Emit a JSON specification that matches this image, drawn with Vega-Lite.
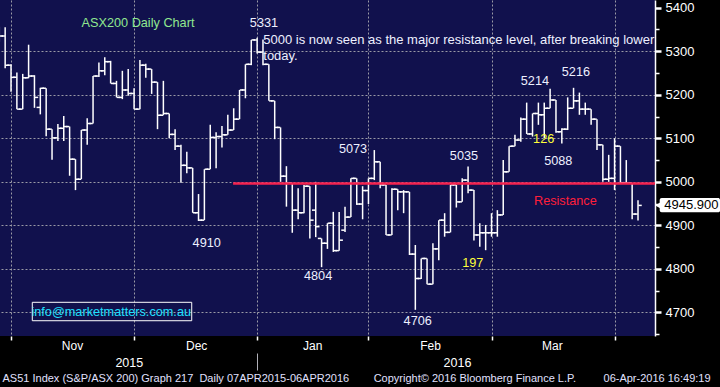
{
  "$schema": "https://vega.github.io/schema/vega-lite/v6.json",
  "width": 655,
  "height": 336,
  "autosize": {"type": "none"},
  "padding": {"left": 0, "top": 0, "right": 65, "bottom": 51},
  "background": "#000000",
  "config": {"view": {"fill": "#11114d", "stroke": null}, "font": "Liberation Sans"},
  "title": {
    "text": "AS51 Index (S&P/ASX 200) Graph 217\u00a0\u00a0Daily 07APR2015-06APR2016\u00a0\u00a0\u00a0\u00a0\u00a0\u00a0\u00a0\u00a0Copyright\u00a9 2016 Bloomberg Finance L.P.\u00a0\u00a0\u00a0\u00a0\u00a0\u00a0\u00a0\u00a0\u00a006-Apr-2016 16:49:19",
    "orient": "bottom",
    "anchor": "start",
    "frame": "group",
    "dx": 2.5,
    "offset": 2,
    "font": "Liberation Sans",
    "fontSize": 11,
    "fontWeight": "normal",
    "color": "#e0e0ff"
  },
  "datasets": {
    "ohlc": [
      {"d": -2, "o": 5345, "h": 5356, "l": 5322, "c": 5335},
      {"d": -1, "o": 5335, "h": 5355, "l": 5261, "c": 5268},
      {"d": 0, "o": 5268, "h": 5270, "l": 5207, "c": 5240},
      {"d": 1, "o": 5240, "h": 5251, "l": 5167, "c": 5167},
      {"d": 2, "o": 5167, "h": 5248, "l": 5167, "c": 5239},
      {"d": 3, "o": 5239, "h": 5315, "l": 5238, "c": 5243},
      {"d": 4, "o": 5243, "h": 5245, "l": 5170, "c": 5194},
      {"d": 5, "o": 5171, "h": 5216, "l": 5155, "c": 5215},
      {"d": 6, "o": 5215, "h": 5215, "l": 5105, "c": 5121},
      {"d": 7, "o": 5121, "h": 5121, "l": 5051, "c": 5101},
      {"d": 8, "o": 5101, "h": 5133, "l": 5094, "c": 5123},
      {"d": 9, "o": 5123, "h": 5151, "l": 5094, "c": 5127},
      {"d": 10, "o": 5127, "h": 5127, "l": 5014, "c": 5052},
      {"d": 11, "o": 5052, "h": 5052, "l": 4981, "c": 5006},
      {"d": 12, "o": 5006, "h": 5119, "l": 5006, "c": 5119},
      {"d": 13, "o": 5119, "h": 5146, "l": 5085, "c": 5134},
      {"d": 14, "o": 5134, "h": 5243, "l": 5134, "c": 5243},
      {"d": 15, "o": 5243, "h": 5274, "l": 5241, "c": 5255},
      {"d": 16, "o": 5255, "h": 5286, "l": 5245, "c": 5276},
      {"d": 17, "o": 5276, "h": 5278, "l": 5226, "c": 5226},
      {"d": 18, "o": 5226, "h": 5232, "l": 5194, "c": 5194},
      {"d": 19, "o": 5194, "h": 5255, "l": 5190, "c": 5211},
      {"d": 20, "o": 5211, "h": 5259, "l": 5198, "c": 5203},
      {"d": 21, "o": 5203, "h": 5215, "l": 5167, "c": 5167},
      {"d": 22, "o": 5167, "h": 5280, "l": 5167, "c": 5268},
      {"d": 23, "o": 5268, "h": 5271, "l": 5239, "c": 5259},
      {"d": 24, "o": 5259, "h": 5259, "l": 5202, "c": 5229},
      {"d": 25, "o": 5229, "h": 5229, "l": 5121, "c": 5153},
      {"d": 26, "o": 5153, "h": 5232, "l": 5153, "c": 5157},
      {"d": 27, "o": 5157, "h": 5157, "l": 5100, "c": 5109},
      {"d": 28, "o": 5109, "h": 5121, "l": 5073, "c": 5082},
      {"d": 29, "o": 5082, "h": 5085, "l": 4998, "c": 5038},
      {"d": 30, "o": 5038, "h": 5069, "l": 5020, "c": 5032},
      {"d": 31, "o": 5032, "h": 5032, "l": 4929, "c": 4929},
      {"d": 32, "o": 4929, "h": 4972, "l": 4910, "c": 4912},
      {"d": 33, "o": 4912, "h": 5029, "l": 4912, "c": 5029},
      {"d": 34, "o": 5029, "h": 5131, "l": 5029, "c": 5102},
      {"d": 35, "o": 5102, "h": 5114, "l": 5031, "c": 5104},
      {"d": 36, "o": 5104, "h": 5128, "l": 5079, "c": 5108},
      {"d": 37, "o": 5108, "h": 5154, "l": 5108, "c": 5119},
      {"d": 38, "o": 5119, "h": 5169, "l": 5119, "c": 5144},
      {"d": 39, "o": 5144, "h": 5211, "l": 5144, "c": 5211},
      {"d": 40, "o": 5211, "h": 5270, "l": 5192, "c": 5270},
      {"d": 41, "o": 5270, "h": 5326, "l": 5268, "c": 5326},
      {"d": 42, "o": 5326, "h": 5331, "l": 5295, "c": 5298},
      {"d": 43, "o": 5298, "h": 5327, "l": 5268, "c": 5270},
      {"d": 44, "o": 5270, "h": 5270, "l": 5186, "c": 5186},
      {"d": 45, "o": 5186, "h": 5186, "l": 5098, "c": 5125},
      {"d": 46, "o": 5125, "h": 5125, "l": 5000, "c": 5013},
      {"d": 47, "o": 5013, "h": 5036, "l": 4943, "c": 4997},
      {"d": 48, "o": 4997, "h": 4997, "l": 4883, "c": 4935},
      {"d": 49, "o": 4935, "h": 4985, "l": 4914, "c": 4929},
      {"d": 50, "o": 4929, "h": 4993, "l": 4928, "c": 4990},
      {"d": 51, "o": 4990, "h": 4990, "l": 4870, "c": 4912},
      {"d": 52, "o": 4935, "h": 5000, "l": 4873, "c": 4897},
      {"d": 53, "o": 4870, "h": 4870, "l": 4804, "c": 4859},
      {"d": 54, "o": 4859, "h": 4905, "l": 4846, "c": 4905},
      {"d": 55, "o": 4905, "h": 4931, "l": 4839, "c": 4842},
      {"d": 56, "o": 4842, "h": 4931, "l": 4842, "c": 4866},
      {"d": 57, "o": 4889, "h": 4943, "l": 4885, "c": 4919},
      {"d": 58, "o": 4919, "h": 5008, "l": 4919, "c": 5008},
      {"d": 59, "o": 5008, "h": 5008, "l": 4947, "c": 4949},
      {"d": 60, "o": 4949, "h": 4990, "l": 4914, "c": 4980},
      {"d": 61, "o": 4980, "h": 5008, "l": 4949, "c": 5008},
      {"d": 62, "o": 5008, "h": 5073, "l": 5004, "c": 5046},
      {"d": 63, "o": 5046, "h": 5046, "l": 4985, "c": 4993},
      {"d": 64, "o": 4993, "h": 4993, "l": 4878, "c": 4878},
      {"d": 65, "o": 4878, "h": 4985, "l": 4878, "c": 4983},
      {"d": 66, "o": 4983, "h": 4983, "l": 4935, "c": 4977},
      {"d": 67, "o": 4977, "h": 4981, "l": 4928, "c": 4977},
      {"d": 68, "o": 4977, "h": 4977, "l": 4832, "c": 4834},
      {"d": 69, "o": 4834, "h": 4855, "l": 4706, "c": 4778},
      {"d": 70, "o": 4778, "h": 4824, "l": 4777, "c": 4824},
      {"d": 71, "o": 4824, "h": 4824, "l": 4765, "c": 4765},
      {"d": 72, "o": 4765, "h": 4859, "l": 4765, "c": 4846},
      {"d": 73, "o": 4846, "h": 4912, "l": 4820, "c": 4912},
      {"d": 74, "o": 4912, "h": 4928, "l": 4874, "c": 4884},
      {"d": 75, "o": 4884, "h": 4993, "l": 4884, "c": 4993},
      {"d": 76, "o": 4993, "h": 4993, "l": 4941, "c": 4954},
      {"d": 77, "o": 4954, "h": 5008, "l": 4954, "c": 5004},
      {"d": 78, "o": 5004, "h": 5035, "l": 4974, "c": 4981},
      {"d": 79, "o": 4981, "h": 4981, "l": 4865, "c": 4878},
      {"d": 80, "o": 4878, "h": 4905, "l": 4851, "c": 4883},
      {"d": 81, "o": 4883, "h": 4901, "l": 4843, "c": 4883},
      {"d": 82, "o": 4883, "h": 4928, "l": 4874, "c": 4883},
      {"d": 83, "o": 4883, "h": 4935, "l": 4874, "c": 4924},
      {"d": 84, "o": 4924, "h": 5050, "l": 4924, "c": 5023},
      {"d": 85, "o": 5023, "h": 5082, "l": 5023, "c": 5082},
      {"d": 86, "o": 5082, "h": 5108, "l": 5082, "c": 5096},
      {"d": 87, "o": 5096, "h": 5148, "l": 5092, "c": 5144},
      {"d": 88, "o": 5144, "h": 5182, "l": 5110, "c": 5110},
      {"d": 89, "o": 5110, "h": 5157, "l": 5104, "c": 5157},
      {"d": 90, "o": 5157, "h": 5182, "l": 5131, "c": 5154},
      {"d": 91, "o": 5154, "h": 5182, "l": 5100, "c": 5169},
      {"d": 92, "o": 5169, "h": 5214, "l": 5169, "c": 5188},
      {"d": 93, "o": 5188, "h": 5188, "l": 5113, "c": 5115},
      {"d": 94, "o": 5115, "h": 5123, "l": 5088, "c": 5121},
      {"d": 95, "o": 5121, "h": 5194, "l": 5119, "c": 5169},
      {"d": 96, "o": 5169, "h": 5216, "l": 5169, "c": 5186},
      {"d": 97, "o": 5186, "h": 5205, "l": 5154, "c": 5167},
      {"d": 98, "o": 5167, "h": 5182, "l": 5154, "c": 5167},
      {"d": 99, "o": 5167, "h": 5167, "l": 5131, "c": 5144},
      {"d": 100, "o": 5144, "h": 5144, "l": 5073, "c": 5085},
      {"d": 101, "o": 5085, "h": 5085, "l": 5000, "c": 5006},
      {"d": 102, "o": 5006, "h": 5062, "l": 5000, "c": 5008},
      {"d": 103, "o": 5008, "h": 5100, "l": 4981, "c": 5082},
      {"d": 104, "o": 5082, "h": 5082, "l": 4997, "c": 4998},
      {"d": 105, "o": 4998, "h": 5050, "l": 4997, "c": 4997},
      {"d": 106, "o": 4997, "h": 4997, "l": 4914, "c": 4926},
      {"d": 107, "o": 4926, "h": 4958, "l": 4911, "c": 4945.9}
    ],
    "notes": [
      {"d": 21.67, "v": 5366, "label": "ASX200 Daily Chart", "kind": "heading"},
      {"d": 43.17, "v": 5364.2, "label": "5331", "kind": "level"},
      {"d": 58.36, "v": 5074.7, "label": "5073", "kind": "level"},
      {"d": 77.3, "v": 5059.8, "label": "5035", "kind": "level"},
      {"d": 89.4, "v": 5230.9, "label": "5214", "kind": "level"},
      {"d": 96.4, "v": 5252.9, "label": "5216", "kind": "level"},
      {"d": 90.9, "v": 5097.3, "label": "126", "kind": "count"},
      {"d": 93.4, "v": 5049, "label": "5088", "kind": "level"},
      {"d": 94.6, "v": 4956.4, "label": "Resistance", "kind": "resistance"},
      {"d": 33.4, "v": 4860, "label": "4910", "kind": "level"},
      {"d": 52.4, "v": 4783, "label": "4804", "kind": "level"},
      {"d": 69.4, "v": 4680.8, "label": "4706", "kind": "level"},
      {"d": 78.8, "v": 4814.7, "label": "197", "kind": "count"},
      {"d": 17.1, "v": 4701, "label": "info@marketmatters.com.au", "kind": "contact"}
    ],
    "comment": [
      {"d": 43.05, "v": 5325.8, "label": "5000 is now seen as the major resistance level, after breaking lower"},
      {"d": 43.05, "v": 5290.2, "label": "today."}
    ],
    "levels": [
      {"from": 37.9, "to": 109.9, "level": 4996}
    ],
    "last": [
      {"price": 4945.9}
    ]
  },
  "layer": [
    {
      "data": {"name": "ohlc"},
      "mark": {"type": "rule", "color": "#ffffff", "strokeWidth": 1.5},
      "encoding": {
        "x": {"field": "d", "type": "quantitative",
          "scale": {"domain": [-1.88, 109.9], "nice": false, "zero": false},
          "axis": {"orient": "bottom", "values": [0, 21, 42, 61, 82, 103], "grid": true, "gridColor": "#9a9aa6", "gridDash": [2, 2], "gridWidth": 1,
            "ticks": true, "tickColor": "#ffffff", "tickSize": 4, "tickWidth": 1.5, "labels": false, "domain": false, "title": null}},
        "y": {"field": "l", "type": "quantitative",
          "scale": {"domain": [4645.9, 5417.7], "nice": false, "zero": false},
          "axis": {"orient": "right", "values": [4700, 4800, 4900, 5000, 5100, 5200, 5300, 5400], "format": "d",
            "grid": true, "gridColor": "#9a9aa6", "gridDash": [2, 2], "gridWidth": 1,
            "gridOpacity": {"condition": {"test": "datum.value > 5350", "value": 0}, "value": 1},
            "domain": true, "domainColor": "#ffffff", "domainWidth": 1.5,
            "ticks": true, "tickColor": "#ffffff", "tickSize": 6, "tickWidth": 2.5,
            "labelColor": "#ffffff", "labelFont": "Liberation Sans", "labelFontSize": 13, "labelPadding": 4,
            "labelFlush": false, "labelOverlap": false, "title": null}},
        "y2": {"field": "h"}
      }
    },
    {
      "data": {"name": "ohlc"},
      "mark": {"type": "tick", "orient": "horizontal", "color": "#ffffff", "opacity": 1, "size": 3.5, "thickness": 1.5, "xOffset": -2},
      "encoding": {
        "x": {"field": "d", "type": "quantitative",
          "scale": {"domain": [-1.88, 109.9], "nice": false, "zero": false},
          "axis": {"orient": "bottom", "values": [10.4, 31.6, 51.4, 71.5, 92.3],
            "labelExpr": "datum.value < 20 ? 'Nov' : datum.value < 40 ? 'Dec' : datum.value < 60 ? 'Jan' : datum.value < 80 ? 'Feb' : 'Mar'",
            "ticks": false, "grid": false, "domain": false, "labelPadding": 4.5, "labelColor": "#ffffff",
            "labelFont": "Liberation Sans", "labelFontSize": 12, "labelFlush": false, "labelOverlap": false, "title": null}},
        "y": {"field": "o", "type": "quantitative",
          "scale": {"domain": [4645.9, 5417.7], "nice": false, "zero": false},
          "axis": {"orient": "right", "values": [4650, 4750, 4850, 4950, 5050, 5150, 5250, 5350],
            "labels": false, "grid": false, "domain": false, "ticks": true, "tickColor": "#ffffff", "tickSize": 4, "tickWidth": 1.5, "title": null}}
      }
    },
    {
      "data": {"name": "ohlc"},
      "mark": {"type": "tick", "orient": "horizontal", "color": "#ffffff", "opacity": 1, "size": 3.5, "thickness": 1.5, "xOffset": 2},
      "encoding": {
        "x": {"field": "d", "type": "quantitative",
          "scale": {"domain": [-1.88, 109.9], "nice": false, "zero": false},
          "axis": {"orient": "bottom", "values": [20.1, 42, 76.1], "offset": 17,
            "labelExpr": "datum.value < 30 ? '2015' : datum.value > 60 ? '2016' : ''",
            "ticks": true, "tickSize": 17, "tickWidth": 1, "tickColor": "#b0b0b8",
            "tickOpacity": {"condition": {"test": "datum.value == 42", "value": 1}, "value": 0},
            "grid": false, "domain": false, "labelPadding": -14, "labelColor": "#ffffff",
            "labelFont": "Liberation Sans", "labelFontSize": 12.5, "labelFlush": false, "labelOverlap": false, "title": null}},
        "y": {"field": "c", "type": "quantitative",
          "scale": {"domain": [4645.9, 5417.7], "nice": false, "zero": false}, "axis": null}
      }
    },
    {
      "data": {"name": "levels"},
      "mark": {"type": "rule", "color": "#f5224f", "strokeWidth": 2.5},
      "encoding": {
        "x": {"field": "from", "type": "quantitative", "scale": {"domain": [-1.88, 109.9], "nice": false, "zero": false}, "axis": null},
        "x2": {"field": "to"},
        "y": {"field": "level", "type": "quantitative", "scale": {"domain": [4645.9, 5417.7], "nice": false, "zero": false}, "axis": null}
      }
    },
    {
      "data": {"values": [{}]},
      "mark": {"type": "rect", "fill": null, "stroke": "#ffffff", "strokeWidth": 1},
      "encoding": {
        "x": {"datum": 3.63, "type": "quantitative", "scale": {"domain": [-1.88, 109.9], "nice": false, "zero": false}, "axis": null},
        "x2": {"datum": 30.84},
        "y": {"datum": 4723.3, "type": "quantitative", "scale": {"domain": [4645.9, 5417.7], "nice": false, "zero": false}, "axis": null},
        "y2": {"datum": 4681}
      }
    },
    {
      "data": {"name": "notes"},
      "mark": {"type": "text", "align": "center", "baseline": "middle", "font": "Liberation Sans", "fontSize": 12.7},
      "encoding": {
        "x": {"field": "d", "type": "quantitative", "scale": {"domain": [-1.88, 109.9], "nice": false, "zero": false}, "axis": null},
        "y": {"field": "v", "type": "quantitative", "scale": {"domain": [4645.9, 5417.7], "nice": false, "zero": false}, "axis": null},
        "text": {"field": "label"},
        "color": {"field": "kind", "type": "nominal", "legend": null,
          "scale": {"domain": ["heading", "level", "count", "resistance", "contact"], "range": ["#90e890", "#eef0ff", "#ffff3a", "#ff1f3a", "#20e0ff"]}}
      }
    },
    {
      "data": {"name": "comment"},
      "mark": {"type": "text", "align": "left", "baseline": "middle", "font": "Liberation Sans", "fontSize": 13, "color": "#eef0ff"},
      "encoding": {
        "x": {"field": "d", "type": "quantitative", "scale": {"domain": [-1.88, 109.9], "nice": false, "zero": false}, "axis": null},
        "y": {"field": "v", "type": "quantitative", "scale": {"domain": [4645.9, 5417.7], "nice": false, "zero": false}, "axis": null},
        "text": {"field": "label"}
      }
    },
    {
      "data": {"name": "last"},
      "mark": {"type": "rect", "fill": "#ffffff", "cornerRadius": 2},
      "encoding": {
        "x": {"datum": 110.7, "type": "quantitative", "scale": {"domain": [-1.88, 109.9], "nice": false, "zero": false}, "axis": null},
        "x2": {"datum": 121},
        "y": {"datum": 4963, "type": "quantitative", "scale": {"domain": [4645.9, 5417.7], "nice": false, "zero": false}, "axis": null},
        "y2": {"datum": 4930}
      }
    },
    {
      "data": {"name": "last"},
      "mark": {"type": "point", "shape": "triangle-left", "filled": true, "color": "#ffffff", "opacity": 1, "size": 40},
      "encoding": {
        "x": {"datum": 110.4, "type": "quantitative", "scale": {"domain": [-1.88, 109.9], "nice": false, "zero": false}, "axis": null},
        "y": {"field": "price", "type": "quantitative", "scale": {"domain": [4645.9, 5417.7], "nice": false, "zero": false}, "axis": null}
      }
    },
    {
      "data": {"name": "last"},
      "mark": {"type": "text", "align": "center", "baseline": "middle", "font": "Liberation Sans", "fontSize": 13, "color": "#000000"},
      "encoding": {
        "x": {"datum": 116.1, "type": "quantitative", "scale": {"domain": [-1.88, 109.9], "nice": false, "zero": false}, "axis": null},
        "y": {"field": "price", "type": "quantitative", "scale": {"domain": [4645.9, 5417.7], "nice": false, "zero": false}, "axis": null},
        "text": {"field": "price", "format": ".3f"}
      }
    }
  ],
  "resolve": {"axis": {"x": "independent", "y": "independent"}}
}
